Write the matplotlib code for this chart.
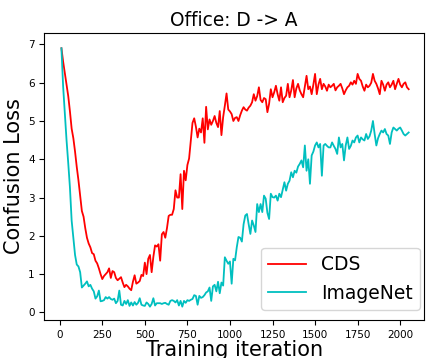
import matplotlib
matplotlib.use('Agg')
import matplotlib.pyplot as plt
import numpy as np

# iterations: every 10 steps from 10 to 2050
iters = list(range(10, 2060, 10))

cds = [
    6.90, 6.55, 6.25, 5.95, 5.65, 5.25, 4.80, 4.55, 4.20, 3.80,
    3.45, 3.05, 2.65, 2.50, 2.20, 1.95, 1.80, 1.70, 1.55, 1.52,
    1.35, 1.28, 1.15, 1.00, 0.87, 0.95, 1.00, 1.05, 1.15, 0.90,
    1.08, 1.05, 0.90, 0.84, 0.88, 0.92, 0.78, 0.66, 0.72, 0.68,
    0.62, 0.58, 0.80, 0.97, 0.75, 0.78, 0.82, 0.98, 0.95, 1.30,
    1.00, 1.40, 1.50, 1.05, 1.45, 1.75, 1.72, 1.78, 1.35, 2.04,
    2.10, 1.95, 2.20, 2.52, 2.55, 2.55, 2.70, 3.19, 3.00, 3.00,
    3.61, 2.70, 3.70, 3.45, 3.85, 4.02, 4.50, 4.95, 5.07, 4.85,
    4.57, 4.80, 4.70, 5.07, 4.43, 5.37, 4.78, 5.04, 4.90, 5.00,
    5.13, 4.95, 4.84, 5.26, 4.63, 5.10, 5.40, 5.72, 5.30, 5.25,
    5.18, 5.00, 5.08, 5.10, 5.00, 5.15, 5.27, 5.36, 5.30, 5.27,
    5.35, 5.40, 5.49, 5.70, 5.53, 5.65, 5.88, 5.55, 5.49, 5.60,
    5.57, 5.23, 5.45, 5.83, 5.62, 5.75, 5.92, 5.70, 5.53, 5.88,
    5.49, 5.60, 5.66, 5.97, 5.62, 5.80, 6.07, 5.62, 5.85, 5.97,
    5.80, 5.70, 5.62, 5.90, 6.18, 5.83, 5.90, 5.70, 5.95, 6.23,
    5.70, 5.95, 6.10, 5.83, 5.97, 5.90, 5.79, 5.95, 5.88, 5.92,
    5.97, 5.80, 5.88, 5.92, 5.97, 5.85, 5.70, 5.80, 5.88, 5.92,
    6.01, 5.95, 6.05, 5.97, 6.23, 6.10, 6.05, 5.90, 5.79, 5.95,
    5.88, 5.92, 6.00, 6.23, 6.05, 5.97, 5.85, 5.70, 6.05, 5.95,
    5.79, 5.95, 6.01, 5.88, 5.95, 6.05, 5.83, 5.97, 6.10, 5.95,
    5.88, 5.97, 6.01, 5.88, 5.83,
]

imagenet = [
    6.90, 5.90, 5.20, 4.50, 3.90, 3.26, 2.40, 1.95, 1.50, 1.25,
    1.20, 1.05, 0.65, 0.70, 0.75, 0.81, 0.68, 0.72, 0.62, 0.55,
    0.36, 0.42, 0.57, 0.29, 0.30, 0.32, 0.40, 0.36, 0.40, 0.35,
    0.33, 0.36, 0.24, 0.30, 0.57, 0.20, 0.18, 0.30, 0.22, 0.32,
    0.17, 0.26, 0.18, 0.27, 0.20, 0.25, 0.37, 0.20, 0.18, 0.17,
    0.26, 0.22, 0.15, 0.22, 0.37, 0.18, 0.24, 0.24, 0.24, 0.22,
    0.24, 0.25, 0.22, 0.20, 0.30, 0.32, 0.30, 0.26, 0.32, 0.18,
    0.30, 0.15, 0.30, 0.25, 0.32, 0.30, 0.33, 0.35, 0.45, 0.43,
    0.20, 0.43, 0.38, 0.40, 0.45, 0.52, 0.55, 0.65, 0.30, 0.68,
    0.72, 0.55, 0.80, 0.50, 0.78, 0.70, 1.44, 1.35, 1.27, 1.33,
    0.75, 1.40, 1.36, 1.70, 1.97, 1.95, 1.85, 2.30, 2.53, 2.57,
    2.30, 2.05, 2.40, 2.27, 2.10, 2.83, 2.62, 2.83, 2.62, 3.05,
    2.97, 2.60, 2.44, 3.10, 3.01, 3.00, 3.05, 2.92, 3.10, 3.01,
    3.20, 3.40, 3.18, 3.36, 3.44, 3.66, 3.53, 3.70, 3.65, 3.81,
    3.88, 3.97, 3.79, 4.36, 3.70, 4.00, 3.36, 4.10, 4.20, 4.36,
    4.44, 4.31, 4.40, 3.57, 4.36, 4.40, 4.35, 4.31, 4.31, 4.44,
    4.35, 4.27, 4.14, 4.57, 4.31, 4.40, 3.97, 4.36, 4.57, 4.27,
    4.35, 4.49, 4.44, 4.57, 4.62, 4.44, 4.57, 4.52, 4.49, 4.66,
    4.53, 4.60, 4.75, 5.00, 4.66, 4.36, 4.55, 4.66, 4.75, 4.70,
    4.79, 4.66, 4.62, 4.40, 4.70, 4.83, 4.79, 4.75, 4.80, 4.83,
    4.75, 4.66, 4.62, 4.66, 4.70,
]

fig = plt.figure(figsize=(4.27, 3.58), dpi=100)
ax = fig.add_axes([0.104, 0.106, 0.889, 0.802])

# plot the data
ax.plot(iters, cds, color='red', linewidth=1.3, label='CDS')
ax.plot(iters, imagenet, color='#00bfbf', linewidth=1.3, label='ImageNet')

# set up the axis
ax.set_xticks(np.arange(0, 2250, 250))
ax.set_yticks(np.arange(0, 8, 1))
ax.set_xlim(-90, 2140)
ax.set_ylim(-0.2, 7.3)
ax.tick_params(labelsize=7.5)
ax.set_xlabel('Training iteration', fontsize=15, labelpad=0)
ax.set_ylabel('Confusion Loss', fontsize=15, labelpad=3)
ax.set_title('Office: D -> A', fontsize=13.4, pad=5)

# create a legend
ax.legend(loc='lower right', bbox_to_anchor=(0.99, 0.035), borderaxespad=0,
          fontsize=13.5, handlelength=2.0)

fig.savefig('out.png', dpi=100)
